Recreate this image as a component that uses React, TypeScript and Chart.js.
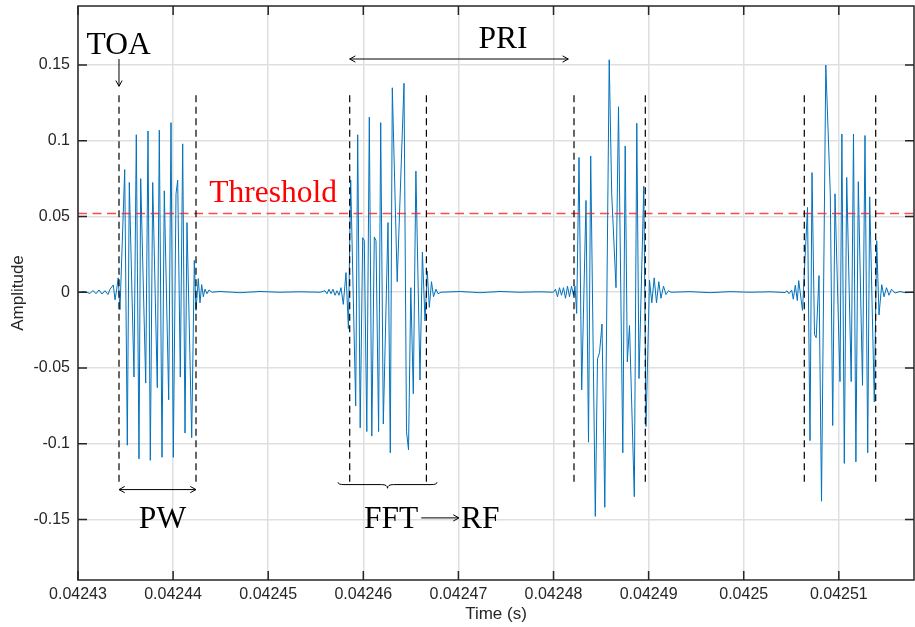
import React, { useEffect, useRef } from "react";
import { Chart, registerables } from "chart.js";

Chart.register(...registerables);

// ---- axes ----
const T0 = 0.04243; // seconds, left edge of the time axis
const US = 1e-6;
const X_END_US = 87.905;
const Y_MIN = -0.19;
const Y_MAX = 0.189;

const X_TICKS = [0.04243, 0.04244, 0.04245, 0.04246, 0.04247, 0.04248, 0.04249, 0.0425, 0.04251];
const X_TICK_LABELS = ["0.04243", "0.04244", "0.04245", "0.04246", "0.04247", "0.04248", "0.04249", "0.0425", "0.04251"];
const Y_TICKS = [-0.15, -0.1, -0.05, 0, 0.05, 0.1, 0.15];
const Y_TICK_LABELS = ["-0.15", "-0.1", "-0.05", "0", "0.05", "0.1", "0.15"];

// ---- signal: [time in µs after T0, amplitude] ----
const SIGNAL_SAMPLES: [number, number][] = [
  [0, 0], [0.631, 0.0005], [1.262, -0.0008], [1.577, 0.0012], [1.893, -0.001], [2.208, 0.0015],
  [2.524, -0.0012], [2.839, 0.001], [3.155, -0.0015], [3.365, 0.002], [3.712, 0.0048], [3.891, -0.005],
  [4.069, 0.002], [4.227, 0.0095], [4.416, -0.0115],
  // pulse 1
  [4.911, 0.081], [5.184, -0.101], [5.394, 0.0725], [5.888, -0.056], [6.13, 0.104], [6.414, -0.11],
  [6.593, 0.075], [7.119, -0.06], [7.361, 0.1065], [7.602, -0.111], [7.855, 0.0725], [8.338, -0.063],
  [8.549, 0.107], [8.833, -0.109], [9.074, 0.067], [9.537, -0.071], [9.779, 0.112], [10.021, -0.109],
  [10.305, 0.065], [10.483, 0.074], [10.757, -0.056], [11.009, 0.098], [11.251, -0.093], [11.461, 0.046],
  [11.956, -0.096], [12.229, 0.021], [12.408, -0.012], [12.65, 0.009], [12.828, -0.007], [13.007, 0.005],
  [13.175, -0.003], [13.354, 0.002], [13.564, -0.001], [13.775, 0.0015], [14.09, 0],
  [14.931, 0.0005], [17.034, -0.0003], [19.137, 0.0005], [21.24, 0], [23.343, 0.0003], [25.446, 0],
  [25.972, 0.001], [26.182, -0.001], [26.393, 0.002], [26.603, -0.001], [26.813, 0.002], [27.024, -0.002],
  [27.234, 0.001], [27.444, -0.002], [27.654, 0.003], [27.896, -0.008], [28.18, 0.013], [28.433, -0.024],
  // pulse 2
  [28.674, 0.074], [29.2, -0.075], [29.41, 0.104], [29.673, -0.0895], [29.936, 0.036], [30.104, 0.034],
  [30.367, -0.092], [30.63, 0.1156], [30.893, -0.095], [31.156, 0.0365], [31.335, 0.034], [31.608, -0.092],
  [31.829, 0.112], [32.102, -0.087], [32.597, 0.046], [32.838, -0.106], [33.049, 0.135], [33.564, 0.007],
  [34.279, 0.138], [34.542, -0.092], [34.752, -0.104], [34.994, 0.003], [35.257, -0.067], [35.53, 0.08],
  [35.961, -0.058], [36.214, 0.0265], [36.487, -0.019], [36.729, 0.014], [36.939, -0.01], [37.171, 0.007],
  [37.381, -0.003], [37.644, 0.002], [37.854, -0.001], [38.169, 0],
  [40.167, 0.0005], [42.27, -0.0003], [44.373, 0.0005], [46.476, 0], [48.579, 0.0003], [49.999, 0],
  [50.209, 0.002], [50.419, -0.003], [50.63, 0.003], [50.84, -0.002], [51.05, 0.003], [51.261, -0.004],
  [51.471, 0.004], [51.681, -0.003], [51.892, 0.004], [52.102, -0.002], [52.26, 0.004], [52.438, -0.014],
  // pulse 3
  [52.68, 0.089], [52.964, -0.0645], [53.416, 0.0606], [53.679, -0.099], [53.911, 0.09], [54.394, -0.148],
  [54.625, -0.044], [54.836, -0.04], [55.099, -0.021], [55.393, -0.142], [55.856, 0.1535], [56.119, 0.065],
  [56.571, 0.003], [56.834, 0.1225], [57.286, -0.106], [57.538, 0.0966], [57.759, -0.046], [57.99, -0.022],
  [58.495, -0.135], [58.758, 0.1116], [58.989, -0.057], [59.494, 0.07], [59.725, -0.0886], [60.093, 0.008],
  [60.335, -0.007], [60.587, 0.0095], [60.829, -0.007], [61.071, 0.007], [61.302, -0.004], [61.565, 0.004],
  [61.828, -0.0015], [62.091, 0.001], [62.354, 0],
  [64.352, 0.0004], [66.455, -0.0003], [68.558, 0.0004], [70.661, 0], [72.764, 0.0003], [74.341, -0.0002],
  [74.551, 0.001], [74.761, -0.001], [75.045, 0.0015], [75.214, -0.0046], [75.424, 0.0046], [75.634, -0.0055],
  [75.782, 0.0077], [76.181, -0.012],
  // pulse 4
  [76.707, 0.056], [76.97, -0.098], [77.18, 0.079], [77.443, -0.028], [77.622, -0.03], [77.916, 0.011],
  [78.179, -0.138], [78.631, 0.15], [79.104, 0.065], [79.357, -0.088], [79.599, 0.065], [80.124, -0.059],
  [80.324, 0.1045], [80.577, -0.113], [80.829, 0.0758], [81.302, -0.059], [81.544, 0.1045], [81.796, -0.112],
  [82.048, 0.073], [82.49, -0.0615], [82.753, 0.1035], [83.037, -0.106], [83.247, 0.063], [83.731, -0.0725],
  [83.984, 0.034], [84.225, -0.015], [84.509, 0.005], [84.751, -0.003], [85.014, 0.003], [85.277, -0.002],
  [85.54, 0.002], [85.908, -0.0005], [86.433, 0.0005], [86.959, -0.0003], [87.905, 0],
];

// ---- pulse markers ----
const PULSE_START_US = [4.311, 28.569, 52.154, 76.37];
const PULSE_END_US = [12.408, 36.634, 59.652, 83.878];
const MARKER_TOP = 0.13;
const MARKER_BOTTOM = -0.1255;
const THRESHOLD = 0.052;

// ---- annotation anchors [µs after T0, amplitude] ----
const TOA_LABEL: [number, number] = [4.28, 0.1572];
const TOA_ARROW_FROM = 0.154;
const TOA_ARROW_TO = 0.136;
const PRI_ARROW: [number, number, number] = [28.569, 51.555, 0.154];
const PRI_LABEL: [number, number] = [44.69, 0.1612];
const PW_ARROW_AMP = -0.1303;
const PW_LABEL: [number, number] = [8.885, -0.1559];
const BRACE: [number, number] = [27.34, 37.749];
const BRACE_AMPS = [-0.1255, -0.127, -0.1294];
const FFT_LABEL: [number, number] = [30.07, -0.1559];
const FFT_ARROW_AMP = -0.149;
const RF_LABEL: [number, number] = [40.27, -0.1559];
const THRESHOLD_LABEL: [number, number] = [13.81, 0.0593];

const SANS = '"Liberation Sans", Arial, Helvetica, sans-serif';
const SERIF = '"Liberation Serif", "DejaVu Serif", serif';
const AXIS_COLOR = "#262626";

function head(ctx: CanvasRenderingContext2D, x: number, y: number, ang: number) {
  const L = 6.5;
  const s = 0.5;
  ctx.beginPath();
  ctx.moveTo(x - L * Math.cos(ang - s), y - L * Math.sin(ang - s));
  ctx.lineTo(x, y);
  ctx.lineTo(x - L * Math.cos(ang + s), y - L * Math.sin(ang + s));
  ctx.stroke();
}

function hArrow(ctx: CanvasRenderingContext2D, x1: number, x2: number, y: number, both: boolean) {
  ctx.beginPath();
  ctx.moveTo(x1, y);
  ctx.lineTo(x2, y);
  ctx.stroke();
  head(ctx, x2, y, 0);
  if (both) head(ctx, x1, y, Math.PI);
}

const annotationPlugin = {
  id: "annotations",
  afterDraw(chart: any) {
    const { ctx, chartArea: a, scales } = chart;
    const xs = scales.x;
    const ys = scales.y;
    const px = (us: number) => xs.getPixelForValue(T0 + us * US);
    const py = (v: number) => ys.getPixelForValue(v);
    ctx.save();

    // axes box and inward ticks
    ctx.strokeStyle = AXIS_COLOR;
    ctx.lineWidth = 1.5;
    ctx.strokeRect(a.left, a.top, a.right - a.left, a.bottom - a.top);
    ctx.beginPath();
    for (const t of X_TICKS) {
      const x = xs.getPixelForValue(t);
      ctx.moveTo(x, a.bottom);
      ctx.lineTo(x, a.bottom - 9);
      ctx.moveTo(x, a.top);
      ctx.lineTo(x, a.top + 9);
    }
    for (const t of Y_TICKS) {
      const y = ys.getPixelForValue(t);
      ctx.moveTo(a.left, y);
      ctx.lineTo(a.left + 9, y);
      ctx.moveTo(a.right, y);
      ctx.lineTo(a.right - 9, y);
    }
    ctx.stroke();

    ctx.strokeStyle = "#000";
    ctx.fillStyle = "#000";
    ctx.lineWidth = 1;

    // TOA
    const xToa = px(PULSE_START_US[0]);
    ctx.beginPath();
    ctx.moveTo(xToa, py(TOA_ARROW_FROM));
    ctx.lineTo(xToa, py(TOA_ARROW_TO));
    ctx.stroke();
    head(ctx, xToa, py(TOA_ARROW_TO), Math.PI / 2);

    // PRI
    hArrow(ctx, px(PRI_ARROW[0]), px(PRI_ARROW[1]), py(PRI_ARROW[2]), true);
    // PW
    hArrow(ctx, px(PULSE_START_US[0]), px(PULSE_END_US[0]), py(PW_ARROW_AMP), true);

    // brace
    const x1 = px(BRACE[0]);
    const x2 = px(BRACE[1]);
    const xm = (x1 + x2) / 2;
    const yEnd = py(BRACE_AMPS[0]);
    const yBar = py(BRACE_AMPS[1]);
    const yTip = py(BRACE_AMPS[2]);
    const r = 6;
    ctx.beginPath();
    ctx.moveTo(x1, yEnd);
    ctx.quadraticCurveTo(x1, yBar, x1 + r, yBar);
    ctx.lineTo(xm - r, yBar);
    ctx.quadraticCurveTo(xm, yBar, xm, yTip);
    ctx.quadraticCurveTo(xm, yBar, xm + r, yBar);
    ctx.lineTo(x2 - r, yBar);
    ctx.quadraticCurveTo(x2, yBar, x2, yEnd);
    ctx.stroke();

    // labels
    ctx.font = `31.5px ${SERIF}`;
    ctx.textBaseline = "alphabetic";
    ctx.textAlign = "center";
    ctx.fillText("TOA", px(TOA_LABEL[0]), py(TOA_LABEL[1]));
    ctx.fillText("PRI", px(PRI_LABEL[0]), py(PRI_LABEL[1]));
    ctx.fillText("PW", px(PW_LABEL[0]), py(PW_LABEL[1]));
    ctx.textAlign = "left";
    const fftX = px(FFT_LABEL[0]);
    ctx.fillText("FFT", fftX, py(FFT_LABEL[1]));
    const rfX = px(RF_LABEL[0]);
    ctx.fillText("RF", rfX, py(RF_LABEL[1]));
    // FFT -> RF arrow
    const fftEnd = fftX + ctx.measureText("FFT").width;
    hArrow(ctx, fftEnd + 3, rfX - 2, py(FFT_ARROW_AMP), false);
    ctx.fillStyle = "#ff0000";
    ctx.fillText("Threshold", px(THRESHOLD_LABEL[0]), py(THRESHOLD_LABEL[1]));

    ctx.restore();
  },
};

export default function App() {
  const ref = useRef<HTMLCanvasElement>(null);

  useEffect(() => {
    document.body.style.margin = "0";
    const canvas = ref.current;
    if (!canvas) return;

    const toX = (us: number) => T0 + us * US;
    const markerSets: any[] = [];
    [...PULSE_START_US, ...PULSE_END_US].forEach((us) => {
      markerSets.push({
        data: [
          { x: toX(us), y: MARKER_TOP },
          { x: toX(us), y: MARKER_BOTTOM },
        ],
        borderColor: "#000",
        borderWidth: 1.2,
        borderDash: [7, 4.5],
        pointRadius: 0,
        order: 0,
      });
    });

    const chart = new Chart(canvas, {
      type: "line",
      data: {
        datasets: [
          ...markerSets,
          {
            data: [
              { x: T0, y: THRESHOLD },
              { x: toX(X_END_US), y: THRESHOLD },
            ],
            borderColor: "rgba(255,30,30,0.8)",
            borderWidth: 1.5,
            borderDash: [9, 5.5],
            pointRadius: 0,
            order: 0,
          },
          {
            data: SIGNAL_SAMPLES.map(([us, v]) => ({ x: toX(us), y: v })),
            borderColor: "#0072BD",
            borderWidth: 1,
            pointRadius: 0,
            tension: 0,
            order: 1,
          },
        ],
      },
      options: {
        animation: false,
        responsive: false,
        maintainAspectRatio: false,
        devicePixelRatio: 1,
        layout: { padding: { top: 6, right: 1, bottom: 0, left: 0 } },
        plugins: { legend: { display: false }, tooltip: { enabled: false } },
        scales: {
          x: {
            type: "linear",
            min: T0,
            max: toX(X_END_US),
            afterBuildTicks: (s: any) => {
              s.ticks = X_TICKS.map((v) => ({ value: v }));
            },
            afterFit: (s: any) => {
              s.height = 47;
              s.paddingLeft = 0;
              s.paddingRight = 0;
            },
            grid: { color: "#dfdfdf", lineWidth: 1.5, drawTicks: false },
            border: { display: false },
            ticks: {
              autoSkip: false,
              maxRotation: 0,
              padding: 5,
              color: AXIS_COLOR,
              font: { family: SANS, size: 16 },
              callback: (_v: any, i: number) => X_TICK_LABELS[i],
            },
            title: {
              display: true,
              text: "Time (s)",
              color: AXIS_COLOR,
              font: { family: SANS, size: 17 },
              padding: { top: 0, bottom: 2 },
            },
          },
          y: {
            type: "linear",
            min: Y_MIN,
            max: Y_MAX,
            afterBuildTicks: (s: any) => {
              s.ticks = Y_TICKS.map((v) => ({ value: v }));
            },
            afterFit: (s: any) => {
              s.width = 78;
              s.paddingTop = 0;
              s.paddingBottom = 0;
            },
            grid: { color: "#dfdfdf", lineWidth: 1.5, drawTicks: false },
            border: { display: false },
            ticks: {
              padding: 8,
              color: AXIS_COLOR,
              font: { family: SANS, size: 16 },
              callback: (_v: any, i: number) => Y_TICK_LABELS[i],
            },
            title: {
              display: true,
              text: "Amplitude",
              color: AXIS_COLOR,
              font: { family: SANS, size: 17 },
              padding: { top: 8, bottom: 0 },
            },
          },
        },
      },
      plugins: [annotationPlugin],
    } as any);

    return () => chart.destroy();
  }, []);

  return (
    <div style={{ width: 915, height: 627, background: "#fff" }}>
      <canvas ref={ref} width={915} height={627} style={{ display: "block", width: 915, height: 627 }} />
    </div>
  );
}
